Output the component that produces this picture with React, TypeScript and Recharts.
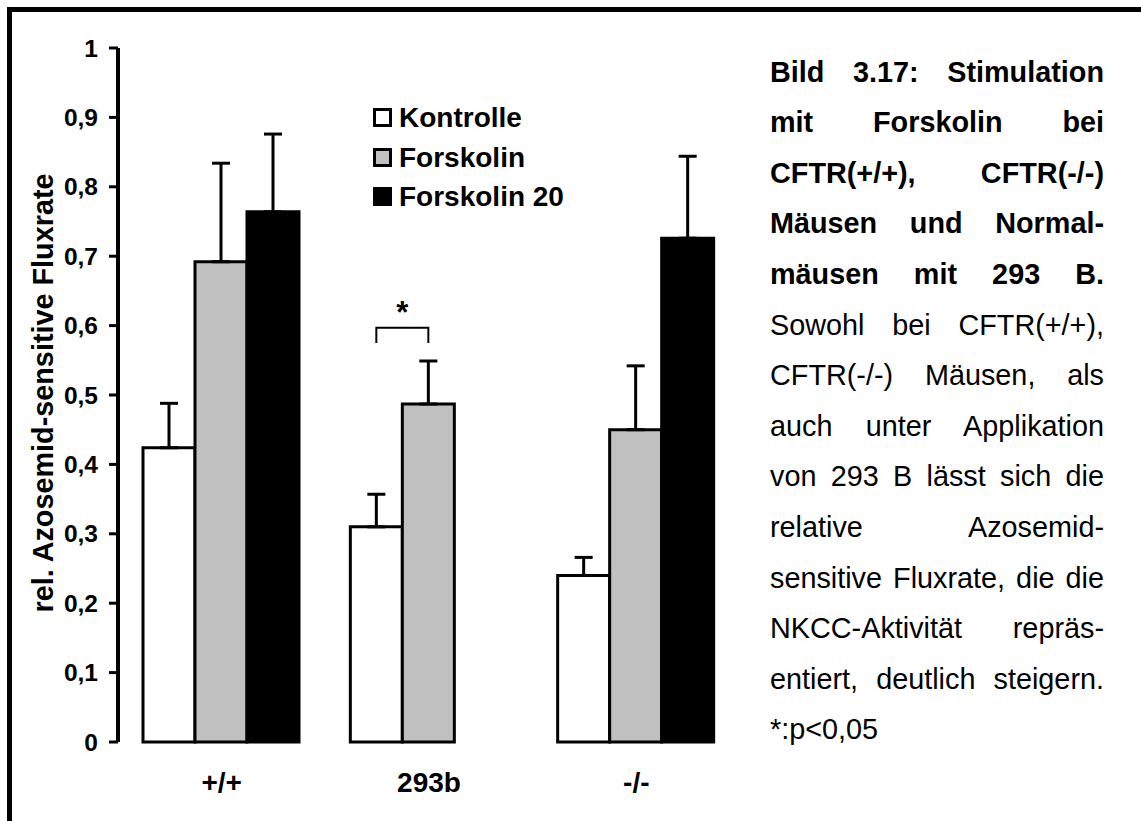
import React from 'react';
import { BarChart, Bar, XAxis, YAxis, ErrorBar, Legend, LabelList } from 'recharts';

const FONT = '"Liberation Sans", Arial, Helvetica, sans-serif';

// data
const groups = ['+/+', '293b', '-/-'];
const kontrolle = [0.424, 0.31, 0.24];
const forskolin = [0.692, 0.487, 0.45];
const forskolin20 = [0.764, null, 0.726];
const kontrolleErr = [0.064, 0.047, 0.026];
const forskolinErr = [0.142, 0.062, 0.092];
const forskolin20Err = [0.112, null, 0.118];
const yTicks = [0, 0.1, 0.2, 0.3, 0.4, 0.5, 0.6, 0.7, 0.8, 0.9, 1];

const seriesNames = ['Kontrolle', 'Forskolin', 'Forskolin 20'];
const seriesFills = ['#ffffff', '#c0c0c0', '#000000'];

// significance Kontrolle vs Forskolin per group
const significance = [null, '*', null];
const sigLevel = 0.597;
const sigLeg = 0.575;

const captionBold = [
  'Bild 3.17: Stimulation',
  'mit Forskolin bei',
  'CFTR(+/+), CFTR(-/-)',
  'Mäusen und Normal-',
  'mäusen mit 293 B.',
];
const captionText = [
  'Sowohl bei CFTR(+/+),',
  'CFTR(-/-) Mäusen, als',
  'auch unter Applikation',
  'von 293 B lässt sich die',
  'relative Azosemid-',
  'sensitive Fluxrate, die die',
  'NKCC-Aktivität repräs-',
  'entiert, deutlich steigern.',
];
const captionLast = '*:p<0,05';

const data = groups.map((g, i) => ({
  group: g,
  k: kontrolle[i],
  f: forskolin[i],
  f20: forskolin20[i],
  kErr: [0, kontrolleErr[i]],
  fErr: [0, forskolinErr[i]],
  f20Err: forskolin20Err[i] == null ? null : [0, forskolin20Err[i]],
}));

const fmt = (v: number) => String(v).replace('.', ',');

const renderSig = (props: any) => {
  const { index, value } = props;
  const vb = props.viewBox || props;
  const { x, y, width, height } = vb;
  if (!significance[index] || !value) return null;
  const base = y + height;
  const perUnit = height / value;
  const toY = (v: number) => base - v * perUnit;
  const x1 = x - width / 2;
  const x2 = x + width / 2;
  const yTop = toY(sigLevel);
  const yLeg = toY(sigLeg);
  return (
    <g>
      <path d={`M${x1},${yLeg}V${yTop}H${x2}V${yLeg}`} stroke="#000" strokeWidth={2} fill="none" />
      <text x={(x1 + x2) / 2} y={yTop - 5} textAnchor="middle" fontFamily={FONT} fontWeight="bold" fontSize={31} fill="#000">
        {significance[index]}
      </text>
    </g>
  );
};

const renderYLabel = (props: any) => {
  const { viewBox } = props;
  const cx = viewBox.x + 35;
  const cy = viewBox.y + viewBox.height / 2 - 2;
  return (
    <text x={cx} y={cy} transform={`rotate(-90, ${cx}, ${cy})`} textAnchor="middle" fontFamily={FONT} fontWeight="bold" fontSize={28.8} fill="#000">
      rel. Azosemid-sensitive Fluxrate
    </text>
  );
};

const renderLegend = () => (
  <div style={{ fontFamily: FONT, fontWeight: 'bold', fontSize: 28, color: '#000' }}>
    {seriesNames.map((name, i) => (
      <div key={name} style={{ display: 'flex', alignItems: 'center', height: 39.5 }}>
        <span
          style={{
            display: 'inline-block',
            boxSizing: 'border-box',
            width: 19,
            height: 19,
            border: '3px solid #000',
            background: seriesFills[i],
            marginRight: 7,
          }}
        />
        <span style={{ lineHeight: '39.5px' }}>{name}</span>
      </div>
    ))}
  </div>
);

export default function App() {
  const lineStyle: React.CSSProperties = {
    height: 50.6,
    lineHeight: '50.6px',
    textAlign: 'justify',
    textAlignLast: 'justify',
  };
  return (
    <div style={{ position: 'absolute', left: 0, top: 0, width: 1141, height: 821, overflow: 'hidden', background: '#fff' }}>
      <div
        style={{
          position: 'absolute',
          left: 7,
          top: 7,
          width: 1129,
          height: 814,
          borderTop: '5px solid #000',
          borderLeft: '5px solid #000',
        }}
      />
      <div style={{ position: 'absolute', left: 0, top: 0 }}>
        <BarChart
          width={1141}
          height={821}
          data={data}
          margin={{ top: 48, right: 401, bottom: 19, left: 18 }}
          barCategoryGap={25}
          barGap={0}
        >
          <XAxis
            dataKey="group"
            axisLine={false}
            tickLine={false}
            tickSize={0}
            tickMargin={30}
            height={60}
            tick={{ fontFamily: FONT, fontWeight: 'bold', fontSize: 28, fill: '#000' }}
          />
          <YAxis
            domain={[0, 1]}
            ticks={yTicks}
            width={100}
            tickSize={9}
            tickMargin={11}
            tickFormatter={fmt}
            axisLine={{ stroke: '#000', strokeWidth: 4 }}
            tickLine={{ stroke: '#000', strokeWidth: 3 }}
            tick={{ fontFamily: FONT, fontWeight: 'bold', fontSize: 24.5, fill: '#000' }}
            label={renderYLabel}
          />
          <Legend
            layout="vertical"
            align="center"
            verticalAlign="middle"
            content={renderLegend}
            wrapperStyle={{ left: 373, top: 98, width: 'auto', height: 'auto' }}
          />
          <Bar dataKey="k" name={seriesNames[0]} fill={seriesFills[0]} stroke="#000" strokeWidth={3} isAnimationActive={false}>
            <ErrorBar dataKey="kErr" direction="y" width={9} strokeWidth={3} stroke="#000" />
          </Bar>
          <Bar dataKey="f" name={seriesNames[1]} fill={seriesFills[1]} stroke="#000" strokeWidth={3} isAnimationActive={false}>
            <ErrorBar dataKey="fErr" direction="y" width={9} strokeWidth={3} stroke="#000" />
            <LabelList dataKey="f" content={renderSig} />
          </Bar>
          <Bar dataKey="f20" name={seriesNames[2]} fill={seriesFills[2]} stroke="#000" strokeWidth={3} isAnimationActive={false}>
            <ErrorBar dataKey="f20Err" direction="y" width={9} strokeWidth={3} stroke="#000" />
          </Bar>
        </BarChart>
      </div>
      <div
        style={{
          position: 'absolute',
          left: 770,
          top: 46.7,
          width: 334,
          fontFamily: FONT,
          fontSize: 28.8,
          color: '#000',
        }}
      >
        {captionBold.map((t) => (
          <div key={t} style={{ ...lineStyle, fontWeight: 'bold' }}>{t}</div>
        ))}
        {captionText.map((t) => (
          <div key={t} style={lineStyle}>{t}</div>
        ))}
        <div style={{ height: 50.6, lineHeight: '50.6px' }}>{captionLast}</div>
      </div>
    </div>
  );
}
